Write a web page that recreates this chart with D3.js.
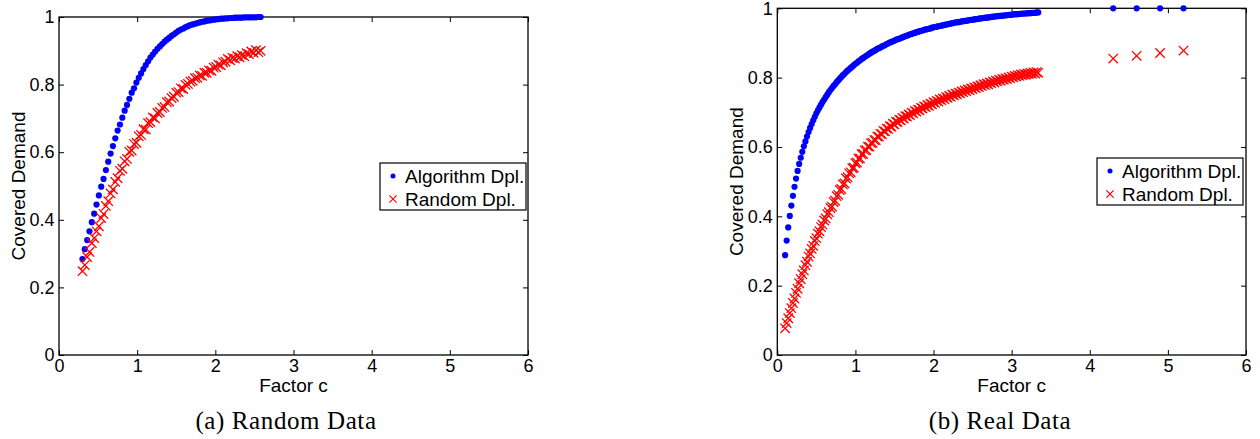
<!DOCTYPE html>
<html>
<head>
<meta charset="utf-8">
<script src="https://cdn.jsdelivr.net/npm/d3@7"></script>
<style>
  html, body { margin: 0; padding: 0; background: #fff; }
  svg { display: block; }
  .sans { font-family: "Liberation Sans", Arial, Helvetica, sans-serif; }
  .serif { font-family: "Liberation Serif", "Times New Roman", serif; }
</style>
</head>
<body>
<svg id="chart" width="1260" height="439"></svg>
<script>
// ---------------- DATA ----------------
const xTicks = [0, 1, 2, 3, 4, 5, 6];
const xTickLabels = ["0", "1", "2", "3", "4", "5", "6"];
const yTicks = [0, 0.2, 0.4, 0.6, 0.8, 1];
const yTickLabels = ["0", "0.2", "0.4", "0.6", "0.8", "1"];
const seriesNames = ["Algorithm Dpl.", "Random Dpl."];
const xAxisTitle = "Factor c";
const yAxisTitle = "Covered Demand";
const captions = ["(a) Random Data", "(b) Real Data"];

// (a) Random Data
const randFactor = [0.30,0.33,0.36,0.39,0.42,0.45,0.48,0.51,0.54,0.57,0.60,0.63,0.66,0.69,0.72,0.75,0.78,0.81,0.84,0.87,
  0.90,0.93,0.96,0.99,1.02,1.05,1.08,1.11,1.14,1.17,1.20,1.23,1.26,1.29,1.32,1.35,1.38,1.41,1.44,1.47,
  1.50,1.53,1.56,1.59,1.62,1.65,1.68,1.71,1.74,1.77,1.80,1.83,1.86,1.89,1.92,1.95,1.98,2.01,2.04,2.07,
  2.10,2.13,2.16,2.19,2.22,2.25,2.28,2.31,2.34,2.37,2.40,2.43,2.46,2.49,2.52,2.55,2.58];
const randAlgo = [0.284,0.313,0.340,0.366,0.393,0.418,0.445,0.472,0.498,0.521,0.547,0.572,0.596,0.618,0.641,0.664,0.682,0.702,0.723,0.740,
  0.758,0.776,0.789,0.806,0.820,0.833,0.846,0.858,0.869,0.880,0.889,0.898,0.906,0.913,0.920,0.927,0.933,0.938,0.944,0.949,
  0.954,0.959,0.963,0.966,0.970,0.973,0.976,0.978,0.980,0.982,0.984,0.986,0.987,0.989,0.990,0.991,0.992,0.993,0.994,0.995,
  0.995,0.996,0.996,0.997,0.997,0.998,0.998,0.998,0.998,0.999,0.999,0.999,0.999,0.999,0.999,1.000,1.000];
const randRandom = [0.248,0.266,0.290,0.305,0.331,0.346,0.366,0.381,0.405,0.417,0.441,0.455,0.478,0.490,0.512,0.523,0.545,0.551,0.573,0.580,
  0.601,0.605,0.624,0.628,0.647,0.651,0.668,0.667,0.686,0.689,0.703,0.700,0.716,0.719,0.731,0.734,0.748,0.750,0.760,0.764,
  0.776,0.778,0.789,0.787,0.799,0.802,0.809,0.811,0.819,0.820,0.827,0.826,0.835,0.835,0.842,0.841,0.850,0.852,0.859,0.857,
  0.866,0.868,0.876,0.872,0.879,0.877,0.884,0.881,0.887,0.884,0.893,0.890,0.898,0.894,0.902,0.896,0.900];

// (b) Real Data
const realFactor = [0.10,0.12,0.14,0.16,0.18,0.20,0.22,0.24,0.26,0.28,0.30,0.32,0.34,0.36,0.38,0.40,0.42,0.44,0.46,0.48,
  0.50,0.52,0.54,0.56,0.58,0.60,0.62,0.64,0.66,0.68,0.70,0.72,0.74,0.76,0.78,0.80,0.82,0.84,0.86,0.88,
  0.90,0.92,0.94,0.96,0.98,1.00,1.02,1.04,1.06,1.08,1.10,1.12,1.14,1.16,1.18,1.20,1.22,1.24,1.26,1.28,
  1.30,1.32,1.34,1.36,1.38,1.40,1.42,1.44,1.46,1.48,1.50,1.52,1.54,1.56,1.58,1.60,1.62,1.64,1.66,1.68,
  1.70,1.72,1.74,1.76,1.78,1.80,1.82,1.84,1.86,1.88,1.90,1.92,1.94,1.96,1.98,2.00,2.02,2.04,2.06,2.08,
  2.10,2.12,2.14,2.16,2.18,2.20,2.22,2.24,2.26,2.28,2.30,2.32,2.34,2.36,2.38,2.40,2.42,2.44,2.46,2.48,
  2.50,2.52,2.54,2.56,2.58,2.60,2.62,2.64,2.66,2.68,2.70,2.72,2.74,2.76,2.78,2.80,2.82,2.84,2.86,2.88,
  2.90,2.92,2.94,2.96,2.98,3.00,3.02,3.04,3.06,3.08,3.10,3.12,3.14,3.16,3.18,3.20,3.22,3.24,3.26,3.28,
  3.30,3.32,3.34,4.30,4.60,4.90,5.20];
const realAlgo = [0.288,0.330,0.368,0.401,0.431,0.459,0.485,0.509,0.531,0.551,0.569,0.586,0.602,0.616,0.630,0.643,0.655,0.666,0.677,0.687,
  0.697,0.706,0.714,0.722,0.730,0.737,0.744,0.751,0.758,0.764,0.770,0.776,0.781,0.787,0.792,0.797,0.802,0.807,0.811,0.816,
  0.820,0.824,0.828,0.832,0.836,0.840,0.843,0.847,0.850,0.854,0.857,0.860,0.863,0.866,0.869,0.872,0.875,0.877,0.880,0.883,
  0.885,0.887,0.890,0.892,0.894,0.897,0.899,0.901,0.903,0.905,0.907,0.909,0.911,0.912,0.914,0.916,0.918,0.920,0.921,0.923,
  0.925,0.926,0.928,0.929,0.931,0.932,0.934,0.935,0.936,0.938,0.939,0.940,0.941,0.942,0.944,0.945,0.946,0.947,0.948,0.949,
  0.950,0.951,0.952,0.953,0.954,0.955,0.956,0.957,0.958,0.959,0.960,0.960,0.961,0.962,0.963,0.964,0.964,0.965,0.966,0.967,
  0.967,0.968,0.969,0.969,0.970,0.971,0.971,0.972,0.973,0.973,0.974,0.974,0.975,0.976,0.976,0.977,0.977,0.978,0.978,0.979,
  0.979,0.980,0.980,0.981,0.981,0.982,0.982,0.983,0.983,0.983,0.984,0.984,0.985,0.985,0.985,0.986,0.986,0.986,0.987,0.987,
  0.987,0.988,0.988,1.000,1.000,1.000,1.000];
const realRandom = [0.077,0.092,0.106,0.121,0.135,0.150,0.163,0.179,0.191,0.207,0.219,0.233,0.244,0.259,0.269,0.284,0.293,0.306,0.315,0.329,
  0.337,0.350,0.357,0.369,0.376,0.388,0.394,0.406,0.412,0.424,0.428,0.441,0.445,0.458,0.462,0.476,0.479,0.492,0.495,0.509,
  0.513,0.524,0.527,0.539,0.540,0.553,0.555,0.566,0.567,0.579,0.580,0.590,0.591,0.601,0.601,0.611,0.612,0.620,0.620,0.630,
  0.630,0.638,0.637,0.646,0.645,0.653,0.652,0.660,0.659,0.667,0.665,0.673,0.672,0.679,0.677,0.684,0.682,0.689,0.688,0.694,
  0.692,0.699,0.697,0.704,0.702,0.708,0.706,0.713,0.711,0.717,0.715,0.721,0.719,0.725,0.723,0.729,0.727,0.733,0.731,0.737,
  0.735,0.740,0.738,0.744,0.742,0.747,0.745,0.751,0.749,0.754,0.752,0.757,0.755,0.760,0.758,0.763,0.761,0.766,0.764,0.769,
  0.767,0.772,0.770,0.775,0.773,0.778,0.776,0.781,0.779,0.783,0.781,0.786,0.784,0.789,0.786,0.791,0.789,0.794,0.791,0.796,
  0.794,0.798,0.796,0.801,0.798,0.803,0.801,0.805,0.803,0.807,0.805,0.809,0.807,0.811,0.808,0.812,0.810,0.814,0.811,0.815,
  0.812,0.816,0.814,0.855,0.863,0.871,0.878];

// ---------------- DRAWING ----------------
const svg = d3.select("#chart");
const BLUE = "#0000ff", RED = "#ff0000";

const panels = [
  { factor: randFactor, algo: randAlgo, rnd: randRandom, left: 59, right: 528, top: 17, bottom: 355,
    ylabX: 25, caption: captions[0], capX: 286, legend: { x: 380, y: 163, w: 146, h: 47 } },
  { factor: realFactor, algo: realAlgo, rnd: realRandom, left: 777.3, right: 1246, top: 8.3, bottom: 355,
    ylabX: 743, caption: captions[1], capX: 1000, legend: { x: 1097, y: 158, w: 146, h: 47 } }
];

function crossPath(s) {
  return `M${-s},${-s}L${s},${s}M${-s},${s}L${s},${-s}`;
}

panels.forEach(p => {
  const x = d3.scaleLinear().domain([0, 6]).range([p.left, p.right]);
  const y = d3.scaleLinear().domain([0, 1]).range([p.bottom, p.top]);
  const g = svg.append("g");

  // frame
  g.append("rect")
    .attr("x", p.left).attr("y", p.top)
    .attr("width", p.right - p.left).attr("height", p.bottom - p.top)
    .attr("fill", "none").attr("stroke", "#000").attr("stroke-width", 1.3);

  const fmtX = d => xTickLabels[xTicks.indexOf(d)];
  const fmtY = d => yTickLabels[yTicks.indexOf(d)];

  const axB = g.append("g").attr("transform", `translate(0,${p.bottom})`)
    .call(d3.axisBottom(x).tickValues(xTicks).tickFormat(fmtX).tickSizeInner(-5).tickSizeOuter(0).tickPadding(4));
  const axT = g.append("g").attr("transform", `translate(0,${p.top})`)
    .call(d3.axisTop(x).tickValues(xTicks).tickFormat("").tickSizeInner(-5).tickSizeOuter(0));
  const axL = g.append("g").attr("transform", `translate(${p.left},0)`)
    .call(d3.axisLeft(y).tickValues(yTicks).tickFormat(fmtY).tickSizeInner(-5).tickSizeOuter(0).tickPadding(4.5));
  const axR = g.append("g").attr("transform", `translate(${p.right},0)`)
    .call(d3.axisRight(y).tickValues(yTicks).tickFormat("").tickSizeInner(-5).tickSizeOuter(0));

  [axB, axT, axL, axR].forEach(a => {
    a.select(".domain").remove();
    a.selectAll("line").attr("stroke", "#000").attr("stroke-width", 1);
    a.selectAll("text").attr("class", "sans").attr("font-size", 18).attr("fill", "#000")
      .attr("font-family", null);
  });

  // axis titles
  g.append("text").attr("class", "sans")
    .attr("x", (p.left + p.right) / 2).attr("y", 391.5)
    .attr("text-anchor", "middle").attr("font-size", 19).text(xAxisTitle);
  g.append("text").attr("class", "sans")
    .attr("transform", `translate(${p.ylabX},${(p.top + p.bottom) / 2}) rotate(-90)`)
    .attr("text-anchor", "middle").attr("font-size", 19).text(yAxisTitle);

  // series: algorithm (dots)
  g.append("g").selectAll("circle")
    .data(p.factor.map((f, i) => [f, p.algo[i]]))
    .join("circle")
    .attr("cx", d => x(d[0])).attr("cy", d => y(d[1])).attr("r", 3.1)
    .attr("fill", BLUE);

  // series: random (crosses)
  g.append("g").selectAll("path")
    .data(p.factor.map((f, i) => [f, p.rnd[i]]))
    .join("path")
    .attr("transform", d => `translate(${x(d[0])},${y(d[1])})`)
    .attr("d", crossPath(4.7))
    .attr("fill", "none").attr("stroke", RED).attr("stroke-width", 1.3);

  // legend
  const L = p.legend;
  const lg = g.append("g");
  lg.append("rect").attr("x", L.x).attr("y", L.y).attr("width", L.w).attr("height", L.h)
    .attr("fill", "#fff").attr("stroke", "#000").attr("stroke-width", 1.2);
  const r1 = L.y + 13, r2 = L.y + 36;
  lg.append("circle").attr("cx", L.x + 13).attr("cy", r1).attr("r", 2.5).attr("fill", BLUE);
  lg.append("path").attr("transform", `translate(${L.x + 13},${r2})`).attr("d", crossPath(3.6))
    .attr("fill", "none").attr("stroke", RED).attr("stroke-width", 1.2);
  lg.append("text").attr("class", "sans").attr("x", L.x + 25).attr("y", r1 + 7)
    .attr("font-size", 19).text(seriesNames[0]);
  lg.append("text").attr("class", "sans").attr("x", L.x + 25).attr("y", r2 + 7)
    .attr("font-size", 19).text(seriesNames[1]);

  // caption
  svg.append("text").attr("class", "serif")
    .attr("x", p.capX).attr("y", 429).attr("text-anchor", "middle")
    .attr("font-size", 25).attr("letter-spacing", 0.6).text(p.caption);
});
</script>
</body>
</html>
